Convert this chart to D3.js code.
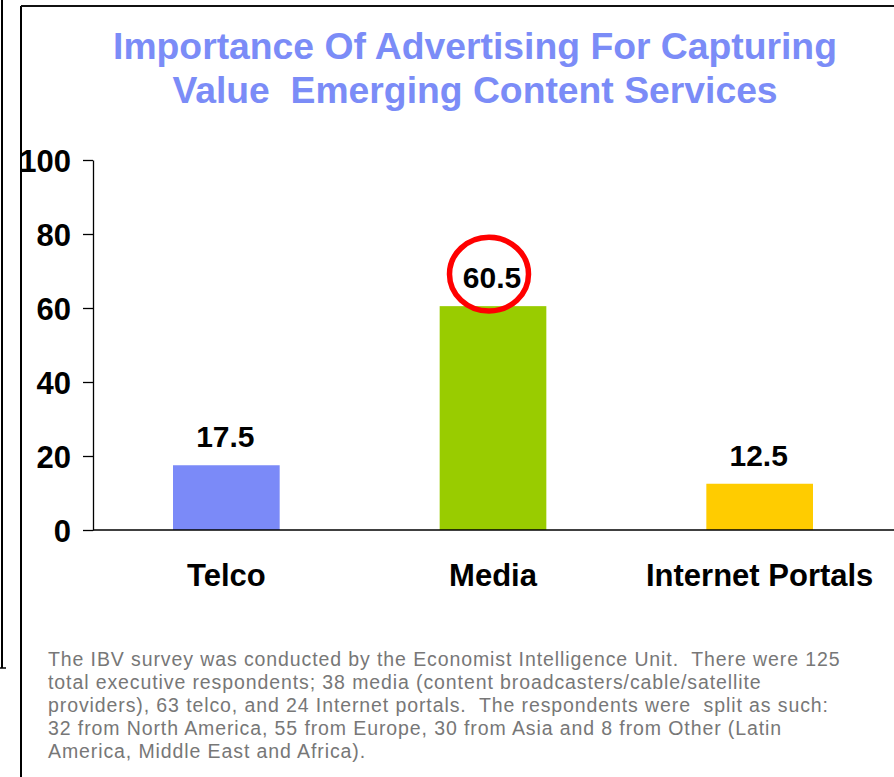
<!DOCTYPE html>
<html><head><meta charset="utf-8">
<script src="https://cdn.jsdelivr.net/npm/d3@7"></script>
<style>html,body{margin:0;padding:0;background:#fff;}svg{display:block;}</style>
</head><body>
<script>
const categories = ["Telco", "Media", "Internet Portals"];
const values = [17.5, 60.5, 12.5];
const barColors = ["#7b8af8", "#99cc00", "#ffcc00"];
const yTicks = [0, 20, 40, 60, 80, 100];
const titleLines = ["Importance Of Advertising For Capturing", "Value  Emerging Content Services"];
const highlighted = "Media";
const footnote = [
  "The IBV survey was conducted by the Economist Intelligence Unit.  There were 125",
  "total executive respondents; 38 media (content broadcasters/cable/satellite",
  "providers), 63 telco, and 24 Internet portals.  The respondents were  split as such:",
  "32 from North America, 55 from Europe, 30 from Asia and 8 from Other (Latin",
  "America, Middle East and Africa)."
];

const W = 894, H = 777;
const font = "'Liberation Sans', Arial, Helvetica, sans-serif";
const svg = d3.select("body").append("svg").attr("width", W).attr("height", H);
svg.append("rect").attr("width", W).attr("height", H).attr("fill", "#fff");

// frame lines
svg.append("line").attr("x1", 2).attr("x2", 2).attr("y1", 0).attr("y2", 668).attr("stroke", "#000").attr("stroke-width", 2);
svg.append("line").attr("x1", 0).attr("x2", 6).attr("y1", 668).attr("y2", 668).attr("stroke", "#000").attr("stroke-width", 1.5);
svg.append("line").attr("x1", 21).attr("x2", 21).attr("y1", 6).attr("y2", H).attr("stroke", "#000").attr("stroke-width", 2);
svg.append("line").attr("x1", 21).attr("x2", W).attr("y1", 6).attr("y2", 6).attr("stroke", "#111").attr("stroke-width", 2);

// title
svg.append("g").selectAll("text").data(titleLines).join("text")
  .attr("x", 475).attr("y", (d, i) => 59 + i * 44)
  .attr("text-anchor", "middle")
  .attr("font-family", font).attr("font-weight", "bold").attr("font-size", 37.3)
  .attr("fill", "#7b8cf7")
  .attr("xml:space", "preserve").style("white-space", "pre")
  .text(d => d);

const x = d3.scaleBand().domain(categories).range([93, 893]).paddingInner(0.6).paddingOuter(0.3);
const y = d3.scaleLinear().domain([0, 100]).range([530, 160]);

// y axis
const yAxis = svg.append("g").attr("transform", "translate(93,0)")
  .call(d3.axisLeft(y).tickValues(yTicks).tickSize(10).tickSizeOuter(0).tickPadding(12));
yAxis.select(".domain").attr("stroke", "#000").attr("stroke-width", 1.3);
yAxis.selectAll(".tick line").attr("stroke", "#000").attr("stroke-width", 1.3);
yAxis.selectAll(".tick text").attr("font-family", font).attr("font-weight", "bold")
  .attr("font-size", 31).attr("fill", "#000").attr("dy", "0.36em");

// bars
svg.append("g").selectAll("rect").data(values).join("rect")
  .attr("x", (d, i) => x(categories[i]))
  .attr("width", x.bandwidth())
  .attr("y", d => y(d))
  .attr("height", d => y(0) - y(d))
  .attr("fill", (d, i) => barColors[i]);

// x axis line
const xAxis = svg.append("g").attr("transform", "translate(0,530)")
  .call(d3.axisBottom(x).tickSize(0).tickPadding(43));
xAxis.select(".domain").attr("stroke", "#000").attr("stroke-width", 1.3).attr("d", "M93,0H894");
xAxis.selectAll(".tick text").attr("font-family", font).attr("font-weight", "bold")
  .attr("font-size", 31).attr("fill", "#000").attr("dy", "0.42em");

// value labels
svg.append("g").selectAll("text").data(values).join("text")
  .attr("x", (d, i) => x(categories[i]) + x.bandwidth() / 2 - 1)
  .attr("y", d => y(d) - 18)
  .attr("text-anchor", "middle")
  .attr("font-family", font).attr("font-weight", "bold").attr("font-size", 30)
  .attr("fill", "#000")
  .text(d => d.toFixed(1));

// highlight ellipse
const hi = categories.indexOf(highlighted);
svg.append("ellipse")
  .attr("cx", x(highlighted) + x.bandwidth() / 2 - 4)
  .attr("cy", y(values[hi]) - 32)
  .attr("rx", 39.5).attr("ry", 36.8)
  .attr("fill", "none").attr("stroke", "#ff0000").attr("stroke-width", 5.5);

// footnote
svg.append("g").selectAll("text").data(footnote).join("text")
  .attr("x", 48).attr("y", (d, i) => 666 + i * 23)
  .attr("font-family", font).attr("font-size", 19.5).attr("fill", "#777")
  .attr("letter-spacing", 0.9)
  .attr("xml:space", "preserve").style("white-space", "pre")
  .text(d => d);
</script>
</body></html>
